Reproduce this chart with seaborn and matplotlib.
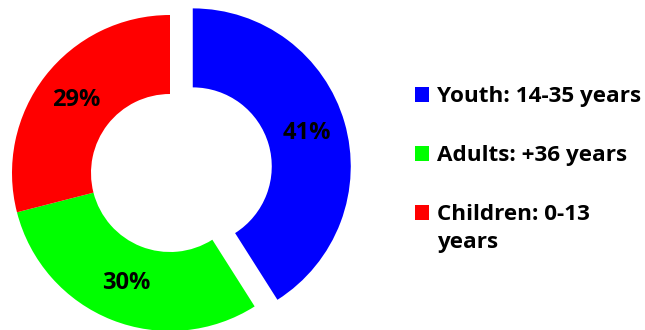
import matplotlib
matplotlib.use("Agg")
import matplotlib.pyplot as plt
from matplotlib.patches import Rectangle
import seaborn as sns

# Age-group shares
categories = ["Youth: 14-35 years", "Adults: +36 years", "Children: 0-13\nyears"]
shares = [41, 30, 29]
colors = ["#0000FF", "#00FF00", "#FF0000"]
explode = [0.15, 0, 0]

sns.set_theme(style="white")
plt.rcParams["font.family"] = ["Open Sans", "DejaVu Sans"]

W, H = 645, 330
fig = plt.figure(figsize=(W / 100, H / 100), dpi=100)
ax = fig.add_axes([0, 0, 1, 1])

# Donut centre and radius in pixels
cx, cy, R = 170, 173, 158
ax.pie(
    shares,
    colors=colors,
    explode=explode,
    startangle=90,
    counterclock=False,
    radius=1,
    wedgeprops=dict(width=0.5, linewidth=0),
    autopct="%d%%",
    pctdistance=0.75,
    textprops=dict(fontsize=17, fontweight="bold", color="black"),
)
ax.set_xlim(-cx / R, (W - cx) / R)
ax.set_ylim((cy - H) / R, cy / R)
ax.set_aspect("equal")
ax.axis("off")

# Legend: square marker + label, one row per category
row_base = [102, 161, 220]
for label, col, yb in zip(categories, colors, row_base):
    fig.patches.append(Rectangle((415 / W, 1 - yb / H), 14 / W, 15 / H,
                                 transform=fig.transFigure, facecolor=col,
                                 edgecolor="none"))
    for i, line in enumerate(label.split("\n")):
        fig.text(437 / W, 1 - (yb + 28 * i) / H, line, ha="left", va="baseline",
                 fontsize=16.2, fontweight="bold", color="black")

fig.savefig("out.png", dpi=100, facecolor="white")
